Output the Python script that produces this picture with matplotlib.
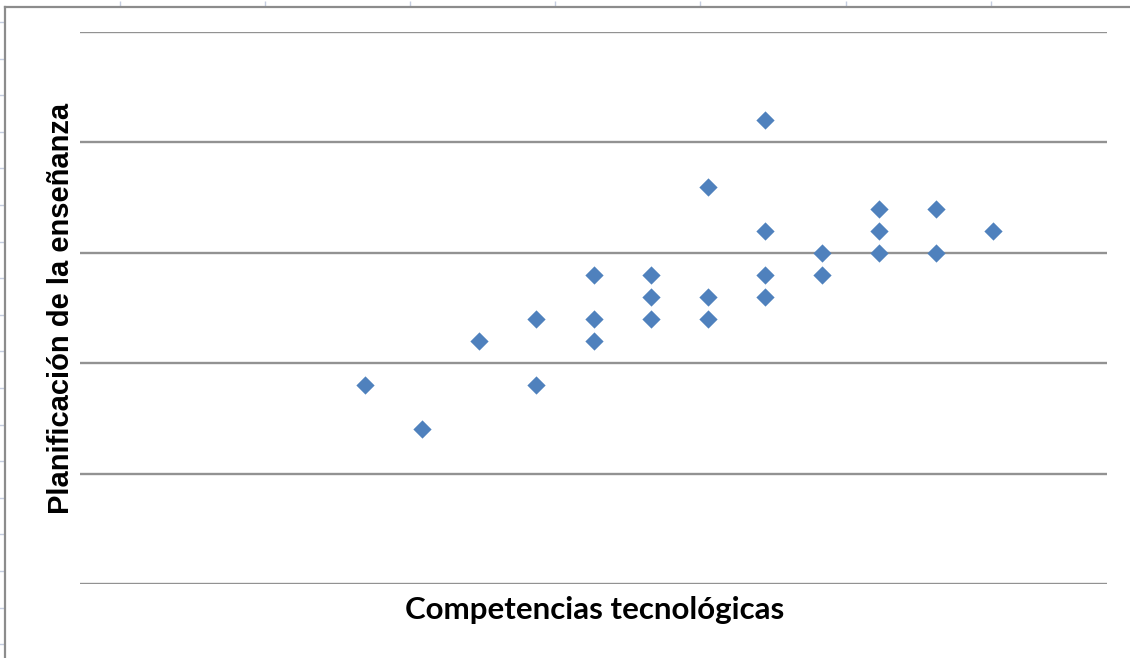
import numpy as np
import matplotlib.pyplot as plt

# puntuaciones por docente
competencias = [5, 6, 7, 8, 8, 9, 9, 9, 10, 10, 10, 11, 11, 11,
                12, 12, 12, 12, 13, 13, 14, 14, 14, 15, 15, 16]
planificacion = [9, 7, 11, 12, 9, 14, 12, 11, 14, 13, 12, 18, 13, 12,
                 21, 16, 14, 13, 15, 14, 17, 16, 15, 17, 15, 16]

x_lim = (0, 18)
y_lim = (0, 25)
y_grid = [0, 5, 10, 15, 20, 25]

W, H = 1130, 658
fig = plt.figure(figsize=(W / 100, H / 100), dpi=100)

# marco exterior con sus marcas
frame = fig.add_axes([5 / W, 0, 1 - 5 / W, (H - 7) / H])
frame.set_xlim(0, W - 5)
frame.set_ylim(0, H - 7)
for s in ["right", "bottom"]:
    frame.spines[s].set_visible(False)
for s in ["top", "left"]:
    frame.spines[s].set_color("#8c8c8c")
    frame.spines[s].set_linewidth(1.6)
frame.xaxis.tick_top()
frame.set_xticks([115, 260, 405, 550, 695, 841, 986])
frame.set_yticks(np.arange(H - 7 - 15, 0, -36.6))
frame.tick_params(direction="out", length=4.5, width=1, color="#c5cde0",
                  labeltop=False, labelleft=False, labelbottom=False)
frame.patch.set_visible(False)

ax = fig.add_axes([80 / W, (H - 584) / H, (1107 - 80) / W, (584 - 32) / H])
ax.set_xlim(*x_lim)
ax.set_ylim(*y_lim)
for yv in y_grid:
    ax.axhline(yv, color="#929292", linewidth=1.7, zorder=1)
ax.scatter(competencias, planificacion, marker="D", s=9.3 ** 2,
           color="#4f81bd", linewidths=0, zorder=3, clip_on=False)
for s in ax.spines.values():
    s.set_visible(False)
ax.set_xticks([])
ax.set_yticks([])
ax.patch.set_visible(False)

fig.text(595 / W, 1 - 610 / H, "Competencias tecnológicas", ha="center",
         va="center", fontsize=22.5, fontweight="bold", family="Lato")
fig.text(61 / W, 1 - 308 / H, "Planificación de la enseñanza", ha="center",
         va="center", rotation=90, fontsize=21, fontweight="bold",
         family="Liberation Sans")

fig.savefig("out.png", dpi=100)
